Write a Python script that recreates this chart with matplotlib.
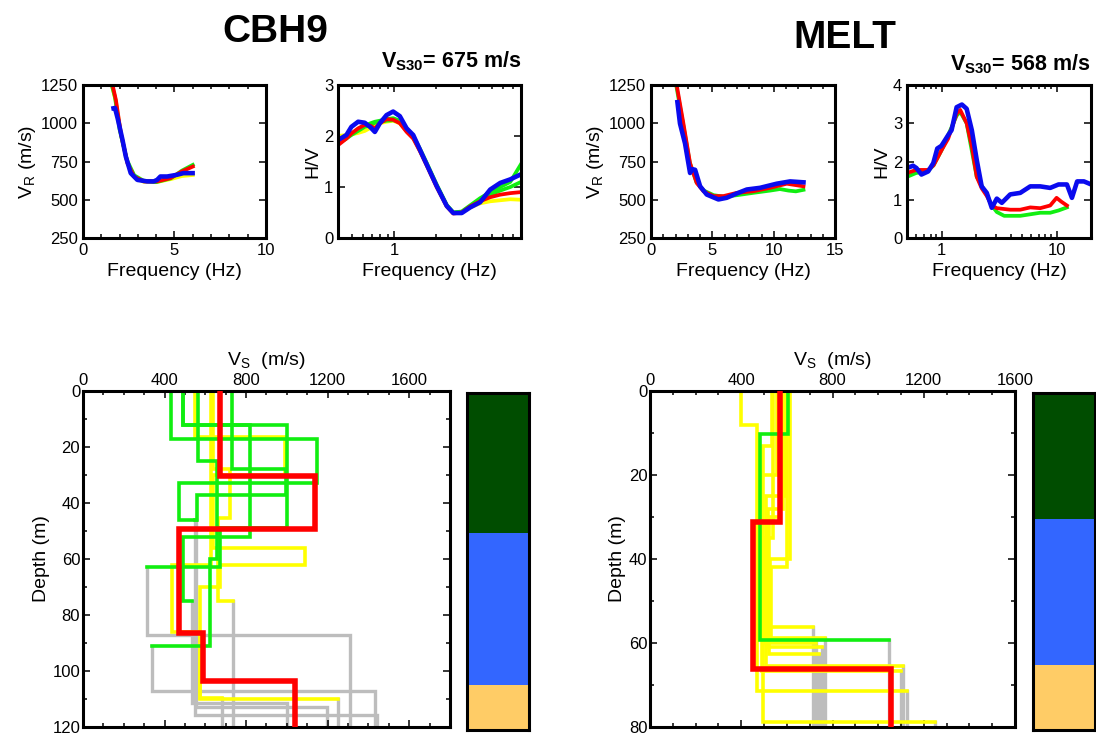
import matplotlib
matplotlib.use("Agg")
import matplotlib.pyplot as plt
from matplotlib.ticker import MultipleLocator, LogLocator, NullFormatter, FixedLocator, FixedFormatter

plt.rcParams['font.family'] = ['Liberation Sans', 'DejaVu Sans']
plt.rcParams['mathtext.fontset'] = 'custom'
plt.rcParams['mathtext.rm'] = 'Liberation Sans'
plt.rcParams['mathtext.bf'] = 'Liberation Sans:bold'

RED = '#ff0000'
GREEN = '#11ee11'
YELLOW = '#ffff00'
BLUE = '#0a0aee'
GRAY = '#bdbdbd'

# ---- dispersion curves (frequency Hz, phase velocity m/s) ----
cbh9_vr_yellow_f = [1.6, 1.8, 2.1, 2.45, 2.8, 3.3, 4.0, 4.8, 5.4, 6.0]
cbh9_vr_yellow_v = [1240, 1140, 910, 735, 650, 618, 615, 635, 655, 662]
cbh9_vr_green_f = [1.55, 1.75, 2.0, 2.4, 2.8, 3.3, 4.0, 4.8, 5.4, 6.0]
cbh9_vr_green_v = [1260, 1170, 960, 760, 660, 625, 615, 640, 690, 728]
cbh9_vr_red_f = [1.6, 1.8, 2.07, 2.43, 2.79, 3.33, 4.05, 4.77, 5.4, 6.0]
cbh9_vr_red_v = [1260, 1152, 935, 739, 652, 620, 620, 641, 685, 717]
cbh9_vr_blue_f = [1.67, 1.75, 1.9, 2.16, 2.34, 2.61, 2.97, 3.5, 3.87, 4.05, 4.23, 4.6, 5.13, 5.49, 5.99]
cbh9_vr_blue_v = [1098, 1100, 1030, 891, 783, 674, 630, 620, 620, 630, 652, 652, 663, 674, 674]

melt_vr_green_f = [2.05, 2.6, 3.15, 3.7, 4.3, 5.1, 5.9, 7.0, 8.3, 9.7, 10.5, 11.2, 11.8, 12.42]
melt_vr_green_v = [1250, 1000, 745, 615, 560, 530, 520, 530, 545, 560, 570, 560, 555, 565]
melt_vr_red_f = [2.09, 2.64, 3.18, 3.72, 4.27, 5.08, 5.9, 6.98, 8.34, 9.7, 11.06, 12.42]
melt_vr_red_v = [1250, 998, 739, 610, 556, 524, 524, 545, 556, 578, 605, 588]
melt_vr_blue_f = [2.15, 2.36, 2.77, 3.18, 3.35, 3.59, 4.0, 4.54, 5.49, 6.17, 6.98, 7.8, 8.88, 10.24, 11.33, 12.42]
melt_vr_blue_v = [1138, 998, 868, 675, 700, 696, 588, 534, 502, 513, 541, 567, 578, 605, 620, 614]

# ---- H/V curves ----
cbh9_hv_f = [0.4, 0.459, 0.498, 0.556, 0.62, 0.681, 0.731, 0.793, 0.885, 0.986, 1.1, 1.23,
             1.37, 1.53, 1.71, 2.01, 2.37, 2.64, 3.03, 3.48, 4.09, 4.83, 5.69, 6.71, 8.0]
cbh9_hv_blue = [1.92, 2.02, 2.18, 2.28, 2.26, 2.17, 2.08, 2.25, 2.41, 2.48, 2.39, 2.15,
                2.02, 1.73, 1.44, 1.02, 0.63, 0.49, 0.49, 0.6, 0.7, 0.95, 1.08, 1.15, 1.25]
cbh9_hv_red = [1.82, 1.95, 2.05, 2.15, 2.22, 2.2, 2.15, 2.25, 2.33, 2.32, 2.25, 2.08,
               1.95, 1.7, 1.42, 1.0, 0.62, 0.48, 0.5, 0.62, 0.72, 0.8, 0.85, 0.88, 0.9]
cbh9_hv_green1 = [1.9, 1.98, 2.05, 2.12, 2.2, 2.25, 2.28, 2.3, 2.33, 2.35, 2.3, 2.15,
                  2.0, 1.75, 1.47, 1.05, 0.65, 0.5, 0.52, 0.64, 0.78, 0.9, 1.0, 1.1, 1.45]
cbh9_hv_green2 = [1.85, 1.95, 2.02, 2.1, 2.18, 2.22, 2.26, 2.28, 2.3, 2.31, 2.27, 2.12,
                  1.98, 1.72, 1.44, 1.03, 0.64, 0.5, 0.51, 0.62, 0.74, 0.85, 0.93, 1.0, 1.1]
cbh9_hv_yellow = [2.0, 2.02, 2.03, 2.06, 2.1, 2.16, 2.22, 2.25, 2.28, 2.3, 2.25, 2.1,
                  1.96, 1.72, 1.45, 1.02, 0.63, 0.49, 0.5, 0.6, 0.68, 0.72, 0.74, 0.76, 0.75]

melt_hv_blue_f = [0.5, 0.564, 0.603, 0.667, 0.763, 0.846, 0.916, 0.995, 1.14, 1.22, 1.35, 1.5,
                  1.65, 1.83, 2.02, 2.23, 2.47, 2.73, 3.02, 3.34, 3.95, 4.83, 5.9, 7.2, 8.8,
                  10.4, 12.3, 13.6, 15.1, 17.3, 20.0]
melt_hv_blue = [1.83, 1.89, 1.83, 1.66, 1.74, 1.96, 2.34, 2.41, 2.69, 2.82, 3.42, 3.49,
                3.38, 2.82, 2.04, 1.35, 1.18, 0.79, 1.03, 0.92, 1.14, 1.18, 1.35, 1.35, 1.31,
                1.4, 1.4, 1.05, 1.48, 1.48, 1.4]
melt_hv_red_f = [0.5, 0.6, 0.76, 0.85, 1.0, 1.14, 1.35, 1.45, 1.65, 1.83, 2.02, 2.23, 2.47,
                 2.73, 3.02, 3.95, 4.83, 5.9, 7.2, 8.8, 10.0, 11.0, 12.3]
melt_hv_red = [1.7, 1.78, 1.78, 1.9, 2.3, 2.6, 3.25, 3.35, 3.0, 2.4, 1.6, 1.3, 1.1,
               0.85, 0.78, 0.74, 0.74, 0.8, 0.78, 0.85, 1.05, 0.95, 0.85]
melt_hv_green_f = [0.5, 0.6, 0.76, 0.85, 1.0, 1.35, 1.45, 1.65, 2.02, 2.5, 2.73, 3.02, 3.5,
                   4.83, 5.9, 7.2, 8.8, 10.4, 12.3]
melt_hv_green = [1.6, 1.7, 1.75, 1.9, 2.3, 3.2, 3.3, 3.0, 1.6, 1.1, 0.85, 0.68, 0.58,
                 0.58, 0.62, 0.66, 0.66, 0.72, 0.8]

# ---- Vs profiles: (layer velocities m/s, layer bottom depths m, layers drawn in colour) ----
cbh9_yellow_profiles = [
    ([549, 991, 640, 1089, 672, 574, 680], [16.5, 30, 56, 62, 70, 109.6, 120], 6),
    ([636, 721, 662, 734], [28, 45.5, 75, 120], 3),
    ([630, 436, 575, 1252], [62, 86, 110, 120], 3),
]
cbh9_green_profiles = [
    ([490, 1000, 670, 313, 1310], [12, 49, 63, 87, 120], 3),
    ([433, 1146, 472, 555, 1195], [17, 33, 46, 113, 120], 3),
    ([566, 657, 624, 337, 1432], [25, 60, 91, 107, 120], 3),
    ([729, 996, 558, 549, 1440], [28, 37, 46, 115.7, 120], 3),
    ([490, 819, 491, 533, 999], [12, 52, 75, 111.4, 120], 3),
]
cbh9_red_profile = ([673, 1138, 472, 591, 1040], [30.4, 49.3, 86.4, 103.6, 120], 5)

melt_yellow_profiles = [
    ([400, 468, 1125], [8, 71.4, 80], 2),
    ([533, 497, 1249], [13, 78.8, 80], 2),
    ([614, 525, 716], [40, 56.2, 80], 2),
    ([592, 510, 1107], [25, 65.4, 80], 2),
    ([600, 530, 767], [41.8, 58.9, 80], 2),
    ([570, 520, 740], [30, 62.6, 80], 2),
    ([555, 490, 1100], [20, 66.6, 80], 2),
    ([540, 505, 728], [35, 60, 80], 2),
    ([585, 515, 752], [28, 61, 80], 2),
]
melt_green_profiles = [([606, 482, 1049], [10.2, 59.2, 80], 2)]
melt_red_profile = ([570, 450, 1055], [31.1, 66.2, 80], 3)

# ---- geology columns (layer bottoms, colours) ----
cbh9_geo_bottoms = [50, 104, 120]
melt_geo_bottoms = [30, 64.5, 80]
geo_colors = ['#004d00', '#3366ff', '#ffcc66']


def step_xy(vel, bot):
    xs, ys, top = [], [], 0
    for v, b in zip(vel, bot):
        xs += [v, v]
        ys += [top, b]
        top = b
    return xs, ys


def draw_profile(ax, prof, color, lw):
    vel, bot, ncol = prof
    xs, ys = step_xy(vel, bot)
    if ncol >= len(vel):
        ax.plot(xs, ys, color=color, lw=lw, zorder=3, solid_joinstyle='miter')
        return
    cx = xs[:2 * ncol] + [vel[ncol]]
    cy = ys[:2 * ncol] + [bot[ncol - 1]]
    ax.plot(xs[2 * ncol:], ys[2 * ncol:], color=GRAY, lw=2.4, zorder=1, solid_joinstyle='miter')
    ax.plot(cx, cy, color=color, lw=lw, zorder=2, solid_joinstyle='miter')


def style(ax):
    for s in ax.spines.values():
        s.set_linewidth(2.2)
    ax.tick_params(which='both', direction='in', top=True, right=True, labelsize=12, width=1.1)
    ax.tick_params(which='major', length=5)
    ax.tick_params(which='minor', length=3)


fig = plt.figure(figsize=(10.96, 7.33), dpi=100)

LW = 2.7
LWB = 3.3

# dispersion panels
ax1 = fig.add_axes([0.0757, 0.6753, 0.167, 0.2087])
ax1.plot(cbh9_vr_yellow_f, cbh9_vr_yellow_v, color=YELLOW, lw=LW)
ax1.plot(cbh9_vr_green_f, cbh9_vr_green_v, color=GREEN, lw=LW)
ax1.plot(cbh9_vr_red_f, cbh9_vr_red_v, color=RED, lw=LW)
ax1.plot(cbh9_vr_blue_f, cbh9_vr_blue_v, color=BLUE, lw=LWB)
ax1.set_xlim(0, 10)
ax1.set_ylim(250, 1250)
ax1.xaxis.set_major_locator(MultipleLocator(5))
ax1.xaxis.set_minor_locator(MultipleLocator(1))
ax1.yaxis.set_major_locator(MultipleLocator(250))

ax3 = fig.add_axes([0.594, 0.6753, 0.168, 0.2087])
ax3.plot(melt_vr_green_f, melt_vr_green_v, color=GREEN, lw=LW)
ax3.plot(melt_vr_red_f, melt_vr_red_v, color=RED, lw=LW)
ax3.plot(melt_vr_blue_f, melt_vr_blue_v, color=BLUE, lw=LWB)
ax3.set_xlim(0, 15)
ax3.set_ylim(250, 1250)
ax3.xaxis.set_major_locator(MultipleLocator(5))
ax3.xaxis.set_minor_locator(MultipleLocator(1))
ax3.yaxis.set_major_locator(MultipleLocator(250))

for ax in (ax1, ax3):
    ax.set_xlabel('Frequency (Hz)', fontsize=14)
    ax.set_ylabel(r'V$_\mathregular{R}$ (m/s)', fontsize=14, labelpad=2)
    style(ax)

# H/V panels
ax2 = fig.add_axes([0.3084, 0.6753, 0.167, 0.2087])
ax2.plot(cbh9_hv_f, cbh9_hv_yellow, color=YELLOW, lw=LW)
ax2.plot(cbh9_hv_f, cbh9_hv_green2, color=GREEN, lw=LW)
ax2.plot(cbh9_hv_f, cbh9_hv_green1, color=GREEN, lw=LW)
ax2.plot(cbh9_hv_f, cbh9_hv_red, color=RED, lw=LW)
ax2.plot(cbh9_hv_f, cbh9_hv_blue, color=BLUE, lw=LWB)
ax2.set_xscale('log')
ax2.set_xlim(0.4, 8)
ax2.set_ylim(0, 3)

ax4 = fig.add_axes([0.8276, 0.6753, 0.168, 0.2087])
ax4.plot(melt_hv_green_f, melt_hv_green, color=GREEN, lw=LW)
ax4.plot(melt_hv_red_f, melt_hv_red, color=RED, lw=LW)
ax4.plot(melt_hv_blue_f, melt_hv_blue, color=BLUE, lw=LWB)
ax4.set_xscale('log')
ax4.set_xlim(0.5, 20)
ax4.set_ylim(0, 4)

for ax in (ax2, ax4):
    ax.xaxis.set_major_locator(FixedLocator([1, 10]))
    ax.xaxis.set_major_formatter(FixedFormatter(['1', '10']))
    ax.xaxis.set_minor_locator(LogLocator(base=10, subs=range(2, 10)))
    ax.xaxis.set_minor_formatter(NullFormatter())
    ax.yaxis.set_major_locator(MultipleLocator(1))
    ax.set_xlabel('Frequency (Hz)', fontsize=14)
    ax.set_ylabel('H/V', fontsize=14, labelpad=2)
    style(ax)

# Vs profiles
ax5 = fig.add_axes([0.0757, 0.0082, 0.3349, 0.4584])
for p in cbh9_yellow_profiles:
    draw_profile(ax5, p, YELLOW, 2.6)
for p in cbh9_green_profiles:
    draw_profile(ax5, p, GREEN, 2.6)
draw_profile(ax5, cbh9_red_profile, RED, 4.0)
ax5.set_xlim(0, 1800)
ax5.set_ylim(120, 0)

ax6 = fig.add_axes([0.5931, 0.0082, 0.333, 0.4584])
for p in melt_yellow_profiles:
    draw_profile(ax6, p, YELLOW, 2.6)
for p in melt_green_profiles:
    draw_profile(ax6, p, GREEN, 2.6)
draw_profile(ax6, melt_red_profile, RED, 4.0)
ax6.set_xlim(0, 1600)
ax6.set_ylim(80, 0)

for ax in (ax5, ax6):
    ax.xaxis.set_ticks_position('both')
    ax.xaxis.set_label_position('top')
    ax.xaxis.set_major_locator(FixedLocator([0, 400, 800, 1200, 1600]))
    ax.xaxis.set_minor_locator(MultipleLocator(100))
    ax.yaxis.set_major_locator(MultipleLocator(20))
    ax.yaxis.set_minor_locator(MultipleLocator(10))
    ax.set_xlabel(r'V$_\mathregular{S}$  (m/s)', fontsize=14, labelpad=6)
    ax.set_ylabel('Depth (m)', fontsize=14, labelpad=2)
    style(ax)
    ax.tick_params(labeltop=True, labelbottom=False, pad=2)

# geology columns
for rect, bots in (([0.4261, 0.0041, 0.0566, 0.4598], cbh9_geo_bottoms),
                   ([0.9425, 0.0041, 0.0566, 0.4598], melt_geo_bottoms)):
    axc = fig.add_axes(rect)
    top = 0
    for b, c in zip(bots, geo_colors):
        axc.axhspan(top, b, color=c, lw=0)
        top = b
    axc.set_ylim(bots[-1], 0)
    axc.set_xlim(0, 1)
    axc.set_xticks([])
    axc.set_yticks([])
    for s in axc.spines.values():
        s.set_linewidth(2.2)

# titles
fig.text(0.251, 0.957, 'CBH9', fontsize=28, fontweight='bold', ha='center', va='center')
fig.text(0.771, 0.948, 'MELT', fontsize=28, fontweight='bold', ha='center', va='center')
fig.text(0.476, 0.916, r'V$_\mathbf{S30}$= 675 m/s', fontsize=15.5, fontweight='bold', ha='right', va='center')
fig.text(0.995, 0.912, r'V$_\mathbf{S30}$= 568 m/s', fontsize=15.5, fontweight='bold', ha='right', va='center')

fig.savefig('out.png', dpi=100)
